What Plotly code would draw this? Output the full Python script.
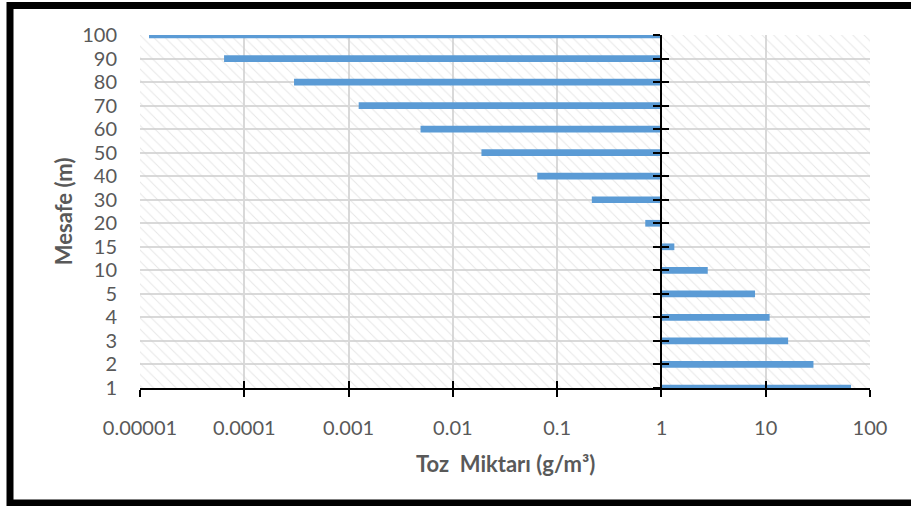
import plotly.graph_objects as go

categories = ["1", "2", "3", "4", "5", "10", "15", "20", "30", "40", "50", "60", "70", "80", "90", "100"]
values = [65.8, 28.7, 16.4, 10.9, 7.9, 2.78, 1.33, 0.70, 0.215, 0.0645, 0.0188,
          0.0049, 0.00125, 0.0003, 0.000064, 0.0000122]
x_tickvals = [1e-5, 1e-4, 1e-3, 1e-2, 1e-1, 1, 10, 100]
x_ticktext = ["0.00001", "0.0001", "0.001", "0.01", "0.1", "1", "10", "100"]

BASE = 1
pos = list(range(len(categories)))
FONT = "Lato, 'Open Sans', sans-serif"
GRAY = "#595959"
GRID = "#D9D9D9"

fig = go.Figure()

# hatched plot background (bottom subplot layer)
fig.add_trace(go.Scatter(
    x=[x_tickvals[0], x_tickvals[-1], x_tickvals[-1], x_tickvals[0], x_tickvals[0]],
    y=[pos[0], pos[0], pos[-1], pos[-1], pos[0]],
    mode="none", fill="toself", fillcolor="rgba(0,0,0,0)",
    fillpattern=dict(shape="\\", size=8, solidity=0.13, fgcolor="#CFCFCF",
                     bgcolor="rgba(0,0,0,0)"),
    hoverinfo="skip", showlegend=False,
))

# data bars on the overlaying x axis so they sit above the hatch
fig.add_trace(go.Bar(
    y=pos, x=[v - BASE for v in values], base=BASE, orientation="h",
    xaxis="x2",
    marker=dict(color="#5B9BD5", line=dict(width=0)), width=0.285,
    showlegend=False,
))

# helper traces to show the crossing y axis at x = 1
fig.add_trace(go.Scatter(x=[None], y=[None], yaxis="y2", showlegend=False))
fig.add_trace(go.Scatter(x=[None], y=[None], yaxis="y3", showlegend=False))

axis_font = dict(family=FONT, size=20, color=GRAY)

fig.update_layout(
    width=911, height=506,
    margin=dict(l=140, r=41, t=35, b=118),
    paper_bgcolor="white", plot_bgcolor="white",
    font=dict(family=FONT, color=GRAY),
    xaxis=dict(type="log", range=[-5, 2], tickvals=x_tickvals, ticktext=x_ticktext,
               showgrid=True, gridcolor=GRID, gridwidth=1.5, zeroline=False,
               showline=True, linecolor="black", linewidth=2,
               ticks="outside", ticklen=7, tickwidth=2, tickcolor="black",
               tickfont=axis_font, ticklabelstandoff=14),
    xaxis2=dict(type="log", range=[-5, 2], tickvals=x_tickvals, overlaying="x",
                anchor="y", side="bottom", showgrid=False, zeroline=False,
                showline=False, ticks="inside", ticklen=7, tickwidth=2,
                tickcolor="black", showticklabels=False),
    yaxis=dict(range=[0, 15], tickvals=pos, ticktext=categories,
               showgrid=True, gridcolor=GRID, gridwidth=1.5, zeroline=False,
               showline=False, ticks="", tickfont=axis_font, ticklabelstandoff=22),
    yaxis2=dict(range=[0, 15], tickvals=pos, overlaying="y", anchor="free",
                position=5 / 7, showgrid=False, zeroline=False, showline=True,
                linecolor="black", linewidth=2, ticks="outside", ticklen=7,
                tickwidth=2, tickcolor="black", showticklabels=False),
    yaxis3=dict(range=[0, 15], tickvals=pos, overlaying="y", anchor="free",
                position=5 / 7, showgrid=False, zeroline=False, showline=False,
                ticks="inside", ticklen=7, tickwidth=2, tickcolor="black",
                showticklabels=False),
    annotations=[
        dict(text="<b>Toz  Miktarı (g/m³)</b>", xref="paper", yref="paper",
             x=0.5, y=-0.2125, xanchor="center", yanchor="middle", showarrow=False,
             font=dict(family=FONT, size=22, color=GRAY)),
        dict(text="<b>Mesafe (m)</b>", xref="paper", yref="paper",
             x=-0.1055, y=0.501, xanchor="center", yanchor="middle",
             showarrow=False, textangle=-90,
             font=dict(family=FONT, size=22, color=GRAY)),
    ],
    shapes=[
        dict(type="rect", xref="paper", yref="paper",
             x0=(10 - 140) / 730, x1=(918 - 140) / 730,
             y0=(388 - 503) / 353, y1=(388 - 5.5) / 353,
             line=dict(color="black", width=7), fillcolor="rgba(0,0,0,0)",
             layer="above"),
    ],
)

fig.write_html("out.html")
